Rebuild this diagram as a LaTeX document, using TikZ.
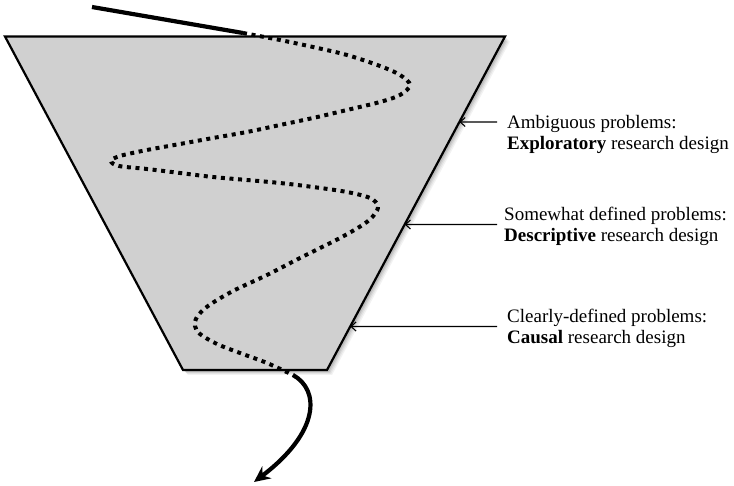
\documentclass[tikz,border=0pt]{standalone}
\usepackage{fontspec}
\setmainfont{Liberation Serif}
\usetikzlibrary{arrows.meta,calc}
\definecolor{funnelgray}{RGB}{208,208,208}
\tikzset{
  funnel/.style={fill=funnelgray, draw=black, line width=2.2pt, line join=miter},
  designtext/.style={anchor=base west, inner sep=0pt, font=\fontsize{19}{21}\selectfont},
  pointer/.style={draw=black, line width=1.1pt, -{Straight Barb[length=5pt,width=9pt]}},
  flowsolid/.style={line width=4.2pt},
  flowdotted/.style={line width=4pt, dash pattern=on 4pt off 4.6pt},
}
\begin{document}
\begin{tikzpicture}[x=1pt,y=-1pt]
\useasboundingbox (0,0) rectangle (734,486);

% funnel corners
\coordinate (TL) at (5,36.5);
\coordinate (TR) at (505,36.5);
\coordinate (BR) at (327,370);
\coordinate (BL) at (183,370);

% soft shadow behind the funnel
\foreach \s/\o in {5/0.05,4/0.06,3/0.08,2/0.1}
  \fill[black,opacity=\o] ($(TL)+(\s,\s)$) -- ($(TR)+(\s,\s)$) -- ($(BR)+(\s,\s)$) -- ($(BL)+(\s,\s)$) -- cycle;

\draw[funnel] (TL) -- (TR) -- (BR) -- (BL) -- cycle;

% incoming problem line
\coordinate (in) at (92,7);
\coordinate (dotstart) at (243,33);
\draw[flowsolid] (in) -- (dotstart);

% winding path through the funnel
\draw[flowdotted] plot[smooth, tension=0.55] coordinates {
  (243,33) (280,40) (313,47) (347,55) (380,66) (400,75) (410,85) (400,95)
  (380,102) (347,110) (313,118) (280,125) (247,132) (213,138) (180,144)
  (147,150) (120,156) (111,161) (119,166) (147,169) (180,173) (213,177)
  (247,180) (280,183) (313,187) (347,192) (370,198) (378,206) (374,215)
  (364,224) (340,238) (300,258) (267,275) (233,291) (208,306) (197,317)
  (195,326) (200,334) (217,344) (240,353) (267,363) (293,375)};

% outgoing arrow
\coordinate (dotend) at (293,375);
\coordinate (out) at (254,482);
\draw[flowsolid, -{Stealth[length=16pt,width=15pt]}]
  (dotend) .. controls (320,390) and (320,432) .. (out);

% labels
\node[designtext] (a1) at (507,129) {Ambiguous problems:};
\node[designtext] (a2) at (507,150) {\textbf{Exploratory} research design};
\node[designtext] (b1) at (504,221) {Somewhat defined problems:};
\node[designtext] (b2) at (504,242) {\textbf{Descriptive} research design};
\node[designtext] (c1) at (507,323) {Clearly-defined problems:};
\node[designtext] (c2) at (507,344) {\textbf{Causal} research design};

% pointers from labels to the funnel edge
\coordinate (p1) at (497,122);
\coordinate (p2) at (497,224.5);
\coordinate (p3) at (497,326.5);
\coordinate (e1) at ($(TR)!{(122-36.5)/(370-36.5)}!(BR)$);
\coordinate (e2) at ($(TR)!{(224.5-36.5)/(370-36.5)}!(BR)$);
\coordinate (e3) at ($(TR)!{(326.5-36.5)/(370-36.5)}!(BR)$);
\draw[pointer] (p1) -- (e1);
\draw[pointer] (p2) -- (e2);
\draw[pointer] (p3) -- (e3);
\end{tikzpicture}
\end{document}
